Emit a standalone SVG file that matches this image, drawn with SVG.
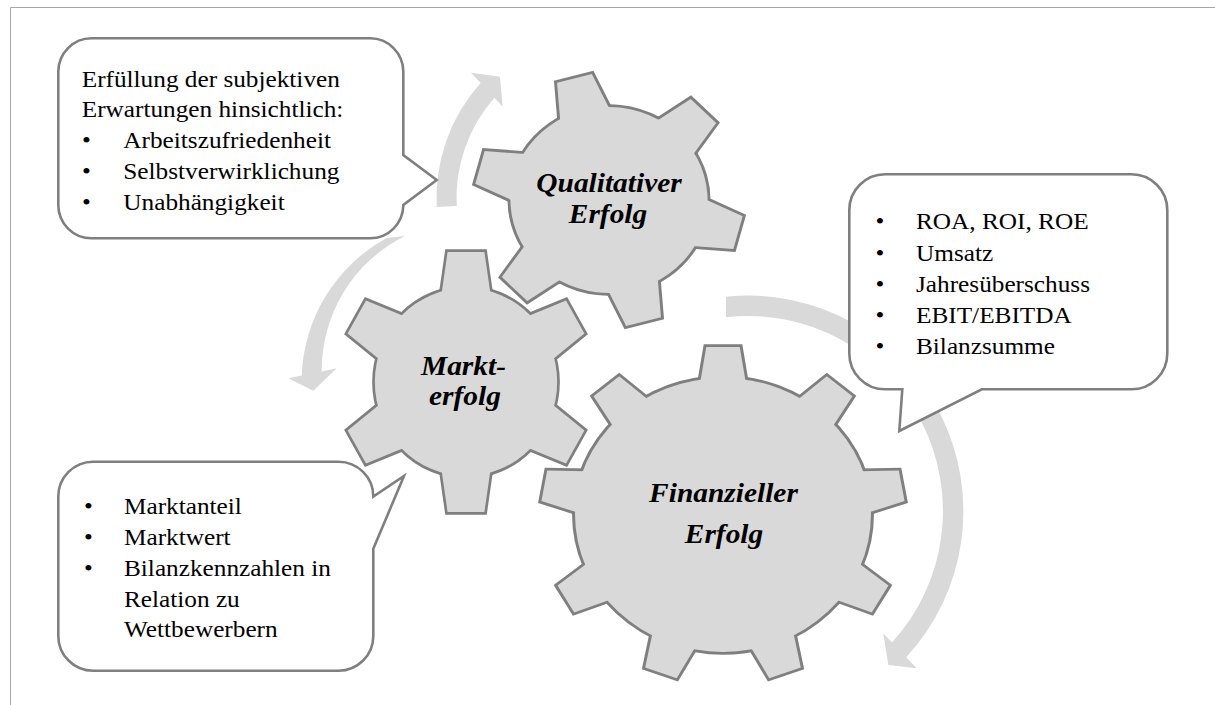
<svg xmlns="http://www.w3.org/2000/svg" width="1215" height="705" viewBox="0 0 1215 705">
<style>
.frame{stroke:#a6a6a6;stroke-width:1;fill:none}
.arrow{fill:#d9d9d9;stroke:none}
.gs{fill:#7f7f7f;stroke:#7f7f7f;stroke-width:5.5;stroke-linejoin:miter}
.gf{fill:#d9d9d9;stroke:none}
.callout{fill:#ffffff;stroke:#7f7f7f;stroke-width:2.6;stroke-linejoin:miter}
.t{font-family:"Liberation Serif","Times New Roman",serif;font-size:23.4px;fill:#000}
.g{font-family:"Liberation Serif","Times New Roman",serif;font-size:27.5px;font-weight:bold;font-style:italic;fill:#000;text-anchor:middle}
</style>
<defs>
<polygon id="toothM" points="-25.5,-86 -19,-130 19,-130 25.5,-86"/>
<polygon id="toothQ" points="-24,-88 -17,-126 17,-126 24,-88"/>
<polygon id="toothF" points="-21,-133 -15.5,-168 15.5,-168 21,-133"/>
<g id="gearM">
<circle r="94"/>
<use href="#toothM"/><use href="#toothM" transform="rotate(60)"/><use href="#toothM" transform="rotate(120)"/>
<use href="#toothM" transform="rotate(180)"/><use href="#toothM" transform="rotate(240)"/><use href="#toothM" transform="rotate(300)"/>
</g>
<g id="gearQ">
<circle r="93"/>
<use href="#toothQ"/><use href="#toothQ" transform="rotate(60)"/><use href="#toothQ" transform="rotate(120)"/>
<use href="#toothQ" transform="rotate(180)"/><use href="#toothQ" transform="rotate(240)"/><use href="#toothQ" transform="rotate(300)"/>
</g>
<g id="gearF">
<circle r="137"/>
<use href="#toothF"/><use href="#toothF" transform="rotate(40)"/><use href="#toothF" transform="rotate(80)"/>
<use href="#toothF" transform="rotate(120)"/><use href="#toothF" transform="rotate(160)"/><use href="#toothF" transform="rotate(200)"/>
<use href="#toothF" transform="rotate(240)"/><use href="#toothF" transform="rotate(280)"/><use href="#toothF" transform="rotate(320)"/>
</g>
</defs>

<g id="frame">
<line class="frame" x1="10.5" y1="7.5" x2="1215" y2="7.5"/>
<line class="frame" x1="10.5" y1="7.5" x2="10.5" y2="705"/>
</g>

<g id="connectors">
<path class="arrow" d="M436.7,207 A171.5,171.5 0 0 1 480.7,83.1 L471,72.7 L500,76.7 L502.7,106.7 L494.4,97.8 A151.5,151.5 0 0 0 456.7,206 Z"/>
<path class="arrow" d="M386.5,238 A164,164 0 0 0 301.7,375.5 L288.3,378.3 L313.3,390.7 L336.7,368.3 L321.7,371.4 A150,150 0 0 1 405,236 Z"/>
<path class="arrow" d="M726,296.7 A215.5,215.5 0 0 1 906.2,657.3 L916.7,668.3 L888.3,665 L883.3,633.3 L892,642.4 A195,195 0 0 0 726,317.2 Z"/>
</g>

<g id="gear-qualitativ">
<use href="#gearQ" class="gs" transform="translate(609,200) scale(1.06,1) rotate(-15)"/>
<use href="#gearQ" class="gf" transform="translate(609,200) scale(1.06,1) rotate(-15)"/>
<text class="g" transform="translate(609,191.7) scale(1.07,1)">Qualitativer</text>
<text class="g" transform="translate(608,222.7) scale(1.07,1)">Erfolg</text>
</g>

<g id="gear-markt">
<use href="#gearM" class="gs" transform="translate(466,382) scale(0.97,1)"/>
<use href="#gearM" class="gf" transform="translate(466,382) scale(0.97,1)"/>
<text class="g" transform="translate(463.5,375) scale(1.07,1)">Markt-</text>
<text class="g" transform="translate(465,405) scale(1.07,1)">erfolg</text>
</g>

<g id="gear-finanziell">
<use href="#gearF" class="gs" transform="translate(723,515) scale(1.08,1)"/>
<use href="#gearF" class="gf" transform="translate(723,515) scale(1.08,1)"/>
<text class="g" transform="translate(723.5,501.7) scale(1.07,1)">Finanzieller</text>
<text class="g" transform="translate(724,543.3) scale(1.07,1)">Erfolg</text>
</g>

<g id="callout-qualitativ">
<path class="callout" d="M91.6,38.3 H370 A33.3,33.3 0 0 1 403.3,71.6 V155 L436.7,180 L403.3,205 A33.3,33.3 0 0 1 370,238.3 H91.6 A33.3,33.3 0 0 1 58.3,205 V71.6 A33.3,33.3 0 0 1 91.6,38.3 Z"/>
<text class="t" transform="translate(81.7,86.7) scale(1.08,1)">Erfüllung der subjektiven</text>
<text class="t" transform="translate(81.7,117.3) scale(1.08,1)">Erwartungen hinsichtlich:</text>
<text class="t" transform="translate(82,148.3) scale(1.08,1)">•</text>
<text class="t" transform="translate(123.3,148.3) scale(1.08,1)">Arbeitszufriedenheit</text>
<text class="t" transform="translate(82,179.2) scale(1.08,1)">•</text>
<text class="t" transform="translate(123.3,179.2) scale(1.08,1)">Selbstverwirklichung</text>
<text class="t" transform="translate(82,209.8) scale(1.08,1)">•</text>
<text class="t" transform="translate(123.3,209.8) scale(1.08,1)">Unabhängigkeit</text>
</g>

<g id="callout-finanziell">
<path class="callout" d="M885.1,174.3 H1131.5 A35.8,35.8 0 0 1 1167.3,210.1 V353.5 A35.8,35.8 0 0 1 1131.5,389.3 H981.8 L899.3,431 L902.3,389.3 H885.1 A35.8,35.8 0 0 1 849.3,353.5 V210.1 A35.8,35.8 0 0 1 885.1,174.3 Z"/>
<text class="t" transform="translate(875.5,229.3) scale(1.08,1)">•</text>
<text class="t" transform="translate(916,229.3) scale(1.08,1)">ROA, ROI, ROE</text>
<text class="t" transform="translate(875.5,260.5) scale(1.08,1)">•</text>
<text class="t" transform="translate(916,260.5) scale(1.08,1)">Umsatz</text>
<text class="t" transform="translate(875.5,291.7) scale(1.08,1)">•</text>
<text class="t" transform="translate(916,291.7) scale(1.08,1)">Jahresüberschuss</text>
<text class="t" transform="translate(875.5,322.7) scale(1.08,1)">•</text>
<text class="t" transform="translate(916,322.7) scale(1.08,1)">EBIT/EBITDA</text>
<text class="t" transform="translate(875.5,353.5) scale(1.08,1)">•</text>
<text class="t" transform="translate(916,353.5) scale(1.08,1)">Bilanzsumme</text>
</g>

<g id="callout-markt">
<path class="callout" d="M93.1,461.7 H338.5 A34.8,34.8 0 0 1 373.3,496.5 L404,476 L373.3,548.8 V635.9 A34.8,34.8 0 0 1 338.5,670.7 H93.1 A34.8,34.8 0 0 1 58.3,635.9 V496.5 A34.8,34.8 0 0 1 93.1,461.7 Z"/>
<text class="t" transform="translate(84,514) scale(1.08,1)">•</text>
<text class="t" transform="translate(124,514) scale(1.08,1)">Marktanteil</text>
<text class="t" transform="translate(84,545) scale(1.08,1)">•</text>
<text class="t" transform="translate(124,545) scale(1.08,1)">Marktwert</text>
<text class="t" transform="translate(84,576) scale(1.08,1)">•</text>
<text class="t" transform="translate(124,576) scale(1.08,1)">Bilanzkennzahlen in</text>
<text class="t" transform="translate(124,606.7) scale(1.08,1)">Relation zu</text>
<text class="t" transform="translate(124,637) scale(1.08,1)">Wettbewerbern</text>
</g>
</svg>
